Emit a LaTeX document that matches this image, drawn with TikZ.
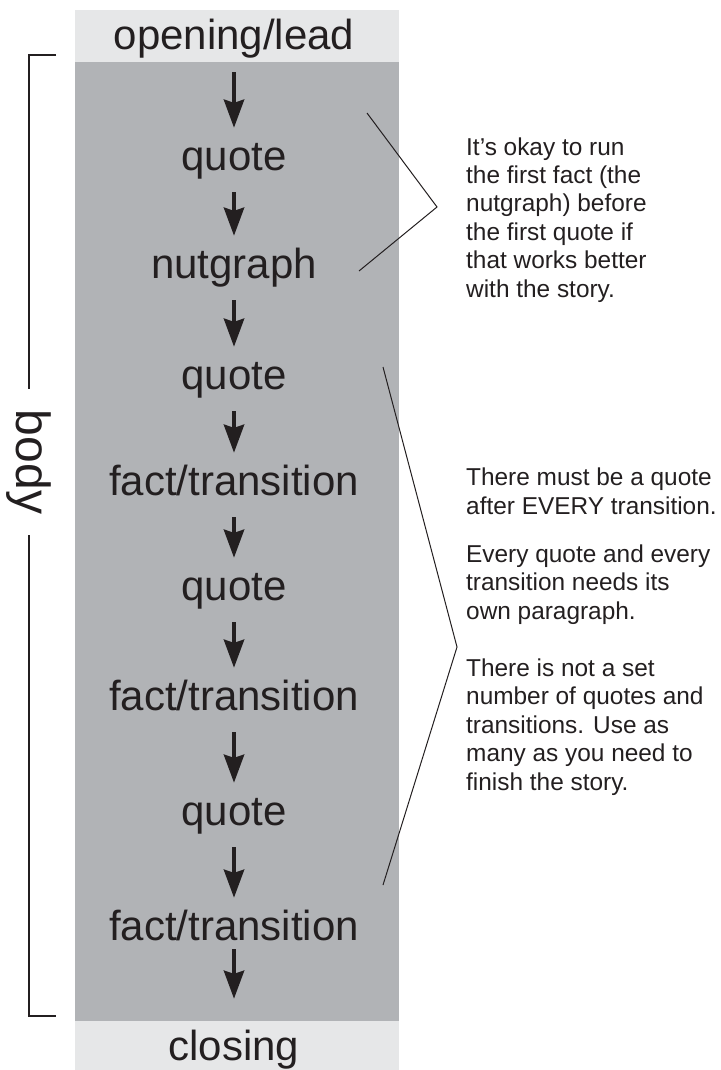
\documentclass[tikz,border=0pt]{standalone}
\usepackage{fontspec}
\setmainfont{Liberation Sans}
\usetikzlibrary{arrows.meta,positioning}
\definecolor{lightbox}{RGB}{230,231,232}
\definecolor{darkbox}{RGB}{177,179,182}
\definecolor{ink}{RGB}{35,31,32}
\tikzset{
    steparrow/.style={
        line width=4.5pt,
        ink,
        -{Stealth[length=28pt, width=20pt, inset=3pt]},
        shorten <=13pt,
        shorten >=13pt
    },
    % one step of the story
    stage/.style={
        ink, inner sep=0pt, anchor=base,
        text height=29pt, text depth=9pt,
        font=\fontsize{42}{50}\selectfont
    },
    % placed at the baseline of the last line
    note/.style={
        ink, inner sep=0pt, anchor=base west, align=left,
        font=\fontsize{24.4}{28.4}\selectfont
    },
    bracket/.style={ink, line width=1.2pt},
    pointer/.style={ink, line width=1pt}
}

\begin{document}
\begin{tikzpicture}[x=1pt,y=-1pt]
    \useasboundingbox (0,0) rectangle (720,1070);
    \fill[lightbox] (75,10) rectangle (399,62);
    \fill[darkbox] (75,62) rectangle (399,1021);
    \fill[lightbox] (75,1021) rectangle (399,1070);

    \node[stage] (lead) at (234,50) {opening/lead};
    \node[stage] (q1) at (234,170) {quote};
    \node[stage] (nut) at (234,278) {nutgraph};
    \node[stage] (q2) at (234,389) {quote};
    \node[stage] (t1) at (234,495) {fact/transition};
    \node[stage] (q3) at (234,600) {quote};
    \node[stage] (t2) at (234,710) {fact/transition};
    \node[stage] (q4) at (234,825) {quote};
    \node[stage] (t3) at (234,940) {fact/transition};
    \node[stage] (close) at (234,1060) {closing};

    \draw[steparrow] (lead.south) -- (q1.north);
    \draw[steparrow] (q1.south) -- (nut.north);
    \draw[steparrow] (nut.south) -- (q2.north);
    \draw[steparrow] (q2.south) -- (t1.north);
    \draw[steparrow] (t1.south) -- (q3.north);
    \draw[steparrow] (q3.south) -- (t2.north);
    \draw[steparrow] (t2.south) -- (q4.north);
    \draw[steparrow] (q4.south) -- (t3.north);
    \draw[steparrow, shorten <=0pt, shorten >=32pt] (t3.south) -- (close.north);

    % bracket on the left
    \node[ink, rotate=-90, inner sep=0pt, inner xsep=21pt,
          font=\fontsize{48}{56}\selectfont] (body) at (29,462) {body};
    \coordinate (brtop) at (56,55);
    \coordinate (brbot) at (56,1016);
    \draw[bracket] (brtop) -| (body.west);
    \draw[bracket] (body.east) |- (brbot);

    \draw[pointer] (367,113) -- (437,207) -- (359,271);
    \draw[pointer] (383,367) -- (457,647) -- (383,885);

    \node[note] (n1) at (466,297) {It’s okay to run\\the first fact (the\\nutgraph) before\\the first quote if\\that works better\\with the story.};
    \node[note] (n2) at (466,514) {There must be a quote\\after EVERY transition.};
    \node[note] (n3) at (466,619) {Every quote and every\\transition needs its\\own paragraph.};
    \node[note] (n4) at (466,790) {There is not a set\\number of quotes and\\transitions. Use as\\many as you need to\\finish the story.};
\end{tikzpicture}
\end{document}
